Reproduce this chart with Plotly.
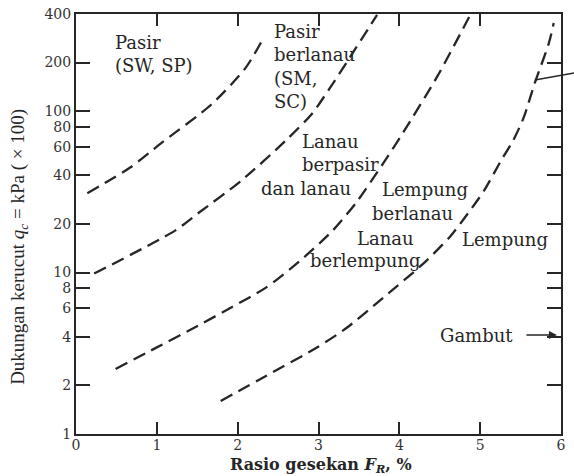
import math
import plotly.graph_objects as go

# ---- data ----
x_ticks = [0, 1, 2, 3, 4, 5, 6]
y_ticks = [1, 2, 4, 6, 8, 10, 20, 40, 60, 80, 100, 200, 400]
y_tick_labels = ["1", "2", "4", "6", "8", "10", "20", "40", "60", "80", "100", "200", "400"]

# boundary 1: Pasir | Pasir berlanau
b1_fr = [0.14, 0.675, 1.05, 1.675, 2.10, 2.325]
b1_qc = [31.0, 44.9, 63.2, 110, 186, 288]

# boundary 2: Pasir berlanau | Lanau berpasir
b2_fr = [0.225, 1.225, 1.51, 2.05, 2.60, 2.925, 3.14, 3.39, 3.725]
b2_qc = [9.86, 18.2, 23.3, 37.3, 66.1, 97.2, 139, 216, 395]

# boundary 3: Lanau berpasir | Lempung berlanau
b3_fr = [0.49, 1.0, 1.51, 1.925, 2.35, 2.76, 3.175, 3.475, 3.80, 4.05, 4.475, 4.89]
b3_qc = [2.53, 3.44, 4.69, 6.10, 8.07, 11.7, 18.2, 27.5, 47.5, 74.1, 166, 406]

# boundary 4: Lempung berlanau | Lempung
b4_fr = [1.79, 2.35, 2.975, 3.35, 3.80, 4.30, 4.64, 4.85, 5.05, 5.26, 5.41, 5.54, 5.675, 5.85, 5.91]
b4_qc = [1.60, 2.29, 3.42, 4.55, 6.99, 11.4, 17.0, 23.3, 32.3, 49.6, 66.1, 91.8, 149, 264, 352]

boundaries = [(b1_fr, b1_qc), (b2_fr, b2_qc), (b3_fr, b3_qc), (b4_fr, b4_qc)]

INK = "#262626"
SERIF = "DejaVu Serif"

fig = go.Figure()
for fr, qc in boundaries:
    fig.add_trace(go.Scatter(
        x=fr, y=qc, mode="lines",
        line=dict(color=INK, width=2.3, dash="13px,7px", shape="spline", smoothing=0.7),
        showlegend=False, hoverinfo="skip"))

def lab(text, x, logq, size=18):
    return dict(text=text, x=x, y=logq, xref="x", yref="y",
                showarrow=False, xanchor="left", yanchor="middle", align="left",
                font=dict(family=SERIF, size=size, color=INK))

annotations = [
    lab("Pasir<br>(SW, SP)", 0.457, 2.357),
    lab("Pasir<br>berlanau<br>(SM,<br>SC)", 2.423, 2.274),
    lab("Lanau<br>berpasir", 2.769, 1.738),
    lab("dan lanau", 2.262, 1.524),
    lab("Lempung", 3.758, 1.512),
    lab("berlanau", 3.634, 1.369),
    lab("Lanau", 3.449, 1.214),
    lab("berlempung", 2.868, 1.072),
    lab("Lempung", 4.747, 1.202),
    lab("Gambut", 4.475, 0.613),
    dict(text="", x=5.95, y=0.613, xref="x", yref="y", ax=-32, ay=0,
         showarrow=True, arrowhead=2, arrowsize=1, arrowwidth=1.6, arrowcolor=INK),
    dict(text="Dukungan kerucut <i>q</i><sub><i>c</i></sub> = kPa ( × 100)",
         x=-0.118, y=0.445, xref="paper", yref="paper", showarrow=False,
         textangle=-90, xanchor="center", yanchor="middle",
         font=dict(family="Liberation Serif", size=19, color=INK)),
    dict(text="<b>Rasio gesekan <i>F</i><sub><i>R</i></sub>, %</b>",
         x=0.505, y=-0.074, xref="paper", yref="paper", showarrow=False,
         xanchor="center", yanchor="middle",
         font=dict(family=SERIF, size=16, color=INK)),
]

axis_common = dict(showgrid=False, zeroline=False, showline=True, linecolor=INK, linewidth=2,
                   mirror="ticks", ticks="inside", tickwidth=2, tickcolor=INK, automargin=False,
                   tickfont=dict(family=SERIF, size=14, color="#333"))

fig.update_layout(
    width=574, height=476,
    margin=dict(l=76, r=13, t=14, b=42),
    paper_bgcolor="white", plot_bgcolor="white",
    annotations=annotations,
    shapes=[dict(type="line", xref="paper", yref="paper", x0=0.946, y0=0.843, x1=1.03, y1=0.860,
                 line=dict(color=INK, width=1.5))],
    xaxis=dict(range=[0, 6], tickvals=x_ticks, ticktext=[str(v) for v in x_ticks], ticklen=12,
               ticklabelstandoff=-3, **axis_common),
    yaxis=dict(type="log", range=[0, math.log10(400)], tickvals=y_ticks, ticktext=y_tick_labels,
               ticklen=14, **axis_common),
)

fig.write_html("out.html", config={"displayModeBar": False},
               post_script="document.documentElement.style.margin='0';document.body.style.margin='0';document.body.style.overflow='hidden';")
